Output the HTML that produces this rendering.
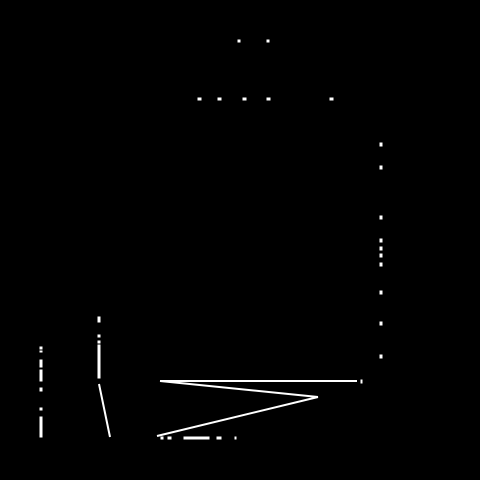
<!DOCTYPE html>
<html><head><meta charset="utf-8"><style>html,body{margin:0;padding:0;background:#000;}svg{display:block}</style></head>
<body>
<svg id="chart" width="480" height="480" viewBox="0 0 480 480">
<rect width="480" height="480" fill="#000"/>
<g id="g" stroke="#fff" fill="#fff"></g>
</svg>
<script>
const zigX=[160,318,157];
const zigY=[381,397,436];
const slantX=[99,110];
const slantY=[384,437];
const topDotsX=[238,267];
const midDotsX=[198,218,243,267,330];
const rightDotsY=[143,166,216,239,247,254,263,291,322,355];
const g=document.getElementById('g');
const NS='http://www.w3.org/2000/svg';
function line(x1,y1,x2,y2,w,name){const l=document.createElementNS(NS,'line');
l.setAttribute('x1',x1);l.setAttribute('y1',y1);l.setAttribute('x2',x2);l.setAttribute('y2',y2);l.setAttribute('stroke-width',w);


g.appendChild(l);}
function dot(x,y,w,h,name){const r=document.createElementNS(NS,'rect');
r.setAttribute('x',x);r.setAttribute('y',y);r.setAttribute('width',w);r.setAttribute('height',h);


g.appendChild(r);}
// left dashed vertical
[[347,349],[351,352],[360,367],[370,381],[388,391],[408,410],[417,437]].forEach(s=>dot(40,s[0],2,s[1]-s[0],'left-dash'));
// x=99 vertical
[[317,322],[335,337],[341,343],[345,378]].forEach(s=>dot(98,s[0],2,s[1]-s[0],'mid-dash'));
line(slantX[0],slantY[0],slantX[1],slantY[1],2,'slant-line');
// horizontal line
line(160,381,357,381,2,'horizontal-line');
dot(361,380,1,3,'horizontal-dot');
// zigzag
for(let i=0;i<zigX.length-1;i++) line(zigX[i],zigY[i],zigX[i+1],zigY[i+1],2,'zigzag-segment');
// bottom bits
[[161,163],[168,171],[184,209],[217,221],[235,236]].forEach(s=>dot(s[0],437,s[1]-s[0],2,'bottom-dash'));
topDotsX.forEach(x=>dot(x,40,2,2,'top-dot'));
midDotsX.forEach(x=>dot(x,98,3,2,'mid-dot'));
rightDotsY.forEach(y=>dot(380,y,2,3,'right-dot'));
</script>
</body></html>
